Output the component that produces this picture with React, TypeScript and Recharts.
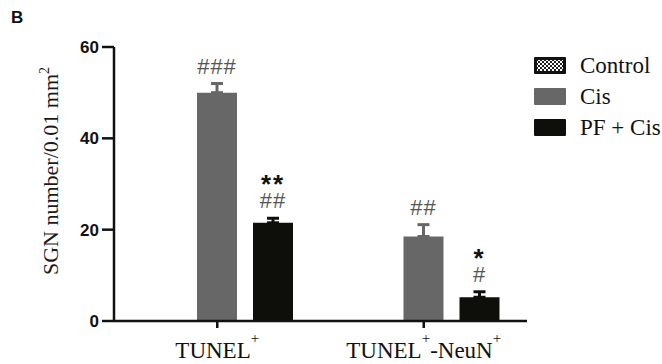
import { BarChart, Bar, XAxis, YAxis, ErrorBar, LabelList } from 'recharts'

const categories = ['TUNEL+', 'TUNEL+-NeuN+']
const controlValues = [0, 0]
const cisValues = [50, 18.5]
const cisErrors = [2, 2.6]
const pfValues = [21.5, 5.2]
const pfErrors = [1, 1.2]
const cisMarks = [['###'], ['##']]
const pfMarks = [['**', '##'], ['*', '#']]
const yTicks = [0, 20, 40, 60]

const seriesNames = ['Control', 'Cis', 'PF + Cis']
const colours = { Control: 'url(#checker)', Cis: '#676767', 'PF + Cis': '#0e0e0a' }

const SERIF = '"Liberation Serif", "Times New Roman", serif'
const SANS = '"Liberation Sans", Arial, sans-serif'

const chartData = categories.map((name, i) => ({
    name,
    idx: i,
    control: controlValues[i],
    cis: cisValues[i],
    cisErr: [0, cisErrors[i]],
    pf: pfValues[i],
    pfErr: [0, pfErrors[i]],
}))

// significance marks stacked above the error bar top
const makeMarkLabel =
    (marks: string[][], values: number[], errors: number[]) => (props: any) => {
        const vb = props.viewBox ?? props
        const idx = Number(props.value)
        if (!vb || Number.isNaN(idx)) return null
        const h = Math.abs(vb.height)
        const top = Math.min(vb.y, vb.y + vb.height)
        const cx = vb.x + vb.width / 2
        const errTop = top - (errors[idx] * h) / values[idx]
        const lines = marks[idx]
        return (
            <text textAnchor="middle" fontFamily={SANS}>
                {lines.map((m, i) => {
                    const fromBottom = lines.length - 1 - i
                    const isStar = m.includes('*')
                    return (
                        <tspan
                            key={i}
                            x={cx}
                            y={errTop - 10 - fromBottom * 15}
                            fontSize={isStar ? 26 : 22}
                            fontWeight={isStar ? 'bold' : 'normal'}
                            letterSpacing={isStar ? 2 : 1}
                            fill={isStar ? '#111' : '#555'}
                        >
                            {m}
                        </tspan>
                    )
                })}
            </text>
        )
    }

// '+' in a category name is drawn as a superscript
const renderXTick = ({ x, y, payload }: any) => {
    const parts = String(payload.value).split('+')
    const spans: any[] = []
    let raised = false
    parts.forEach((part, i) => {
        if (part) {
            spans.push(
                <tspan key={`p${i}`} dy={raised ? 15 : 0}>
                    {part}
                </tspan>
            )
            raised = false
        }
        if (i < parts.length - 1) {
            spans.push(
                <tspan key={`s${i}`} dy={-15} fontSize={15}>
                    +
                </tspan>
            )
            raised = true
        }
    })
    return (
        <text x={x} y={y + 28} textAnchor="middle" fontFamily={SERIF} fontSize={23} fill="#111">
            {spans}
        </text>
    )
}

const renderYLabel = (props: any) => {
    const vb = props.viewBox
    return (
        <text
            transform={`translate(${vb.x + 58}, ${vb.y + 124}) rotate(-90)`}
            textAnchor="middle"
            fontFamily={SERIF}
            fontSize={22}
            fill="#1a1a1a"
        >
            SGN number/0.01 mm
            <tspan dy={-9} fontSize={14}>
                2
            </tspan>
        </text>
    )
}

const Legend = () => (
    <div style={{ position: 'absolute', left: 534, top: 57 }}>
        {seriesNames.map((name) => (
            <div key={name} style={{ display: 'flex', alignItems: 'center', height: 17, marginBottom: 14 }}>
                <svg width={32} height={17} style={{ display: 'block' }}>
                    <defs>
                        <pattern id="checkerLeg" width="4" height="4" patternUnits="userSpaceOnUse">
                            <rect width="4" height="4" fill="#fff" />
                            <rect width="2" height="2" fill="#222" />
                            <rect x="2" y="2" width="2" height="2" fill="#222" />
                        </pattern>
                    </defs>
                    {name === 'Control' ? (
                        <>
                            <rect width={32} height={17} rx={1} fill="#111" />
                            <rect x={3} y={3} width={26} height={11} fill="url(#checkerLeg)" />
                        </>
                    ) : (
                        <rect width={32} height={17} rx={1} fill={colours[name as keyof typeof colours]} />
                    )}
                </svg>
                <span style={{ marginLeft: 14, fontFamily: SERIF, fontSize: 23, color: '#111', lineHeight: '17px' }}>
                    {name}
                </span>
            </div>
        ))}
    </div>
)

const App = () => {
    return (
        <div style={{ position: 'relative', width: 662, height: 364, background: '#fff' }}>
            <style>{'body{margin:0}'}</style>
            <span
                style={{
                    position: 'absolute',
                    left: 11,
                    top: 9,
                    fontFamily: SANS,
                    fontWeight: 'bold',
                    fontSize: 17,
                    color: '#111',
                    lineHeight: '18px',
                }}
            >
                B
            </span>
            <BarChart
                width={662}
                height={364}
                data={chartData}
                margin={{ top: 47, right: 135, left: 0, bottom: 0 }}
                barGap={16}
                barSize={40}
            >
                <defs>
                    <pattern id="checker" width="4" height="4" patternUnits="userSpaceOnUse">
                        <rect width="4" height="4" fill="#fff" />
                        <rect width="2" height="2" fill="#222" />
                        <rect x="2" y="2" width="2" height="2" fill="#222" />
                    </pattern>
                </defs>
                <XAxis
                    dataKey="name"
                    height={43}
                    axisLine={{ stroke: '#111', strokeWidth: 2.5 }}
                    tickLine={{ stroke: '#111', strokeWidth: 2.5 }}
                    tickSize={7}
                    tickMargin={2}
                    tick={renderXTick}
                    interval={0}
                />
                <YAxis
                    width={114}
                    domain={[0, 60]}
                    ticks={yTicks}
                    interval={0}
                    axisLine={{ stroke: '#111', strokeWidth: 2.5 }}
                    tickLine={{ stroke: '#111', strokeWidth: 2.5 }}
                    tickSize={12}
                    tickMargin={3}
                    tick={{ fontFamily: SANS, fontWeight: 'bold', fontSize: 17, fill: '#111' }}
                    label={{ content: renderYLabel }}
                />
                <Bar dataKey="control" fill={colours.Control} isAnimationActive={false} />
                <Bar dataKey="cis" fill={colours.Cis} isAnimationActive={false}>
                    <ErrorBar dataKey="cisErr" direction="y" width={6} strokeWidth={3} stroke={colours.Cis} />
                    <LabelList dataKey="idx" content={makeMarkLabel(cisMarks, cisValues, cisErrors)} />
                </Bar>
                <Bar dataKey="pf" fill={colours['PF + Cis']} isAnimationActive={false}>
                    <ErrorBar dataKey="pfErr" direction="y" width={6} strokeWidth={3} stroke={colours['PF + Cis']} />
                    <LabelList dataKey="idx" content={makeMarkLabel(pfMarks, pfValues, pfErrors)} />
                </Bar>
            </BarChart>
            <Legend />
        </div>
    )
}

export default App
